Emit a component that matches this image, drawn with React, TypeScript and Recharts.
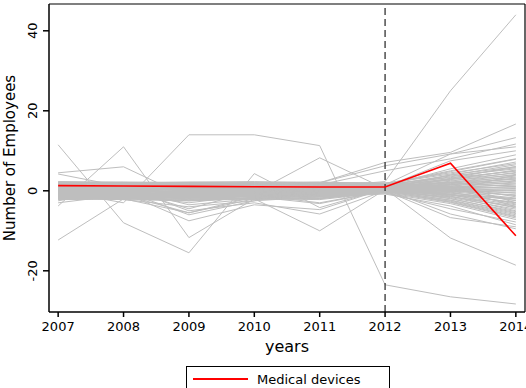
import React from 'react';
import { LineChart, Line, XAxis, YAxis, ReferenceLine, Legend, Label } from 'recharts';

const years = [2007, 2008, 2009, 2010, 2011, 2012, 2013, 2014];
const yTicks = [-20, 0, 20, 40];

// highlighted industry
const medicalDevices = [1.3, 1.2, 1.1, 1.0, 0.95, 0.95, 6.9, -11.25];

// the outlying grey industries
const outlierIndustries = [
  [11.5, -8.0, -15.5, 4.3, -4.2, 0.5, 1.5, 3.0],
  [-3.8, 11.0, -11.7, -2.0, -1.0, 0.8, 2.0, 1.0],
  [-12.3, -2.0, -5.5, -1.5, 1.0, 0.5, -1.0, -2.0],
  [4.5, 6.0, -1.7, -1.0, -3.0, 0.0, 3.0, 5.0],
  [0.0, -3.0, 14.0, 14.0, 11.3, -23.5, -26.5, -28.3],
  [4.2, 1.0, 0.5, -0.5, 8.25, 0.5, 4.0, 6.0],
  [1.0, 0.0, 0.5, 0.0, 1.0, 2.3, 25.0, 44.0],
  [0.5, 1.0, -5.0, -3.0, -5.8, 0.0, -6.7, -9.0],
  [-1.0, 0.5, -3.5, -2.0, -10.0, 0.3, -5.8, -9.5],
  [0.0, -0.5, -7.5, -3.5, -4.7, 0.5, -11.8, -18.6],
  [1.0, 0.0, -6.0, -2.5, 2.0, 7.1, 9.6, 16.7],
  [0.5, 1.0, 0.0, 1.0, 2.0, 6.25, 9.2, 13.3],
  [2.0, -1.0, -5.5, -2.0, 0.5, 1.0, 2.0, -3.0],
  [-2.5, 0.5, -4.5, 0.0, -2.0, 1.0, 0.0, 4.0],
  [-1.5, -2.0, -1.0, -1.5, -3.2, 0.0, 1.0, -4.0],
  [1.5, 1.0, 0.5, 1.0, 1.5, 5.0, 8.0, 11.7],
  [1.0, 1.2, 1.0, 0.8, 1.0, 1.5, 9.2, 11.0],
  [0.5, 0.5, 0.8, 1.0, 0.5, 1.0, 7.5, 10.0],
  [-3.0, -1.0, -3.0, -1.0, 0.5, 1.2, 5.5, 9.0],
  [-2.0, -1.5, -2.5, -1.8, -1.0, -0.5, -4.5, -7.8],
  [-1.5, -2.2, -4.0, -2.5, -1.5, -0.8, -3.8, -8.5],
];

// the dense band of grey industries
const bandIndustries = [
  [2.1, 1.8, 1.6, 1.5, 1.7, 1.5, 4.8, 7.9],
  [1.9, 2.0, 1.4, 1.2, 1.3, 1.8, 4.2, 7.2],
  [1.5, 1.3, 1.0, 1.4, 1.1, 1.2, 3.9, 6.5],
  [1.2, 1.6, 1.9, 1.8, 1.5, 1.0, 3.5, 5.8],
  [0.9, 0.7, 0.8, 0.6, 0.9, 0.9, 3.1, 6.1],
  [0.6, 1.1, 0.3, 0.8, 0.5, 0.7, 2.8, 5.2],
  [0.3, 0.2, 0.6, 0.2, 0.4, 0.6, 2.4, 4.6],
  [0.1, -0.2, -0.4, 0.1, 0.2, 0.5, 2.1, 4.1],
  [-0.2, 0.3, 0.1, -0.3, -0.1, 0.4, 1.8, 3.7],
  [-0.5, -0.6, -0.9, -0.6, -0.4, 0.3, 1.5, 3.2],
  [-0.8, -0.3, -1.2, -0.9, -0.7, 0.2, 1.2, 2.6],
  [-1.1, -1.0, -1.5, -1.3, -1.0, 0.1, 0.9, 2.2],
  [-1.4, -1.3, -0.8, -1.6, -1.2, 0.0, 0.6, 1.7],
  [-1.7, -1.6, -2.0, -1.8, -1.5, -0.1, 0.3, 1.1],
  [-2.0, -1.9, -1.7, -2.1, -1.8, -0.2, 0.0, 0.6],
  [-2.2, -2.1, -2.3, -1.9, -2.0, -0.3, -0.3, 0.1],
  [2.3, 2.2, 2.1, 2.0, 2.1, 1.9, 4.5, 6.8],
  [1.7, 1.4, 1.2, 1.0, 0.8, 1.3, 0.4, -0.6],
  [1.4, 1.0, 0.7, 0.9, 1.2, 1.1, 0.1, -1.2],
  [1.0, 0.5, 0.4, 0.5, 0.6, 0.9, -0.2, -1.8],
  [0.7, 0.9, 1.1, 0.3, 0.1, 0.8, -0.5, -2.4],
  [0.4, 0.0, -0.2, -0.1, 0.3, 0.6, -0.8, -3.0],
  [0.0, -0.4, -0.6, -0.4, -0.3, 0.5, -1.1, -3.5],
  [-0.3, -0.8, -1.0, -0.8, -0.6, 0.4, -1.4, -4.1],
  [-0.6, -1.2, -1.3, -1.1, -0.9, 0.3, -1.7, -4.6],
  [-0.9, -1.5, -1.8, -1.4, -1.3, 0.2, -2.0, -5.2],
  [-1.2, -1.8, -2.2, -1.7, -1.6, 0.0, -2.3, -5.7],
  [-1.5, -2.0, -1.4, -2.2, -1.9, -0.2, -2.6, -6.3],
  [-1.8, -2.2, -2.5, -2.0, -2.2, -0.4, -2.9, -6.8],
  [-2.1, -1.4, -1.1, -1.0, -0.8, -0.6, -3.2, -7.2],
  [2.0, 1.5, 1.3, 1.6, 1.9, 1.6, 3.3, 4.9],
  [1.6, 1.2, 0.9, 1.1, 1.4, 1.4, 2.6, 3.9],
  [1.3, 0.8, 0.5, 0.7, 1.0, 1.2, 2.0, 2.9],
  [0.8, 0.4, 0.2, 0.4, 0.7, 1.0, 1.4, 1.9],
  [0.5, 0.1, -0.1, 0.0, 0.3, 0.8, 0.8, 0.9],
  [0.2, -0.1, -0.5, -0.2, 0.0, 0.6, 0.4, -0.1],
  [-0.1, -0.5, -0.8, -0.5, -0.4, 0.4, -0.1, -1.0],
  [-0.4, -0.9, -1.1, -0.7, -0.7, 0.2, -0.6, -2.0],
  [-0.7, -1.1, -1.6, -1.2, -1.1, 0.0, -1.0, -2.9],
  [-1.0, -1.4, -1.9, -1.5, -1.4, -0.2, -1.5, -3.8],
  [1.8, 2.1, 1.7, 1.9, 1.6, 1.7, 5.0, 8.0],
  [1.1, 1.9, 2.0, 1.7, 1.8, 1.5, 3.7, 5.5],
  [0.6, 1.3, 1.5, 1.3, 1.4, 1.3, 2.9, 4.4],
  [0.2, 0.6, 0.9, 1.0, 1.0, 1.1, 2.2, 3.4],
  [-0.3, 0.0, 0.4, 0.4, 0.5, 0.9, 1.6, 2.4],
  [-0.9, -0.7, -0.3, -0.4, -0.2, 0.7, 1.0, 1.4],
  [-1.3, -1.7, -1.2, -1.3, -0.9, 0.5, 0.5, 0.4],
  [-1.9, -1.0, -0.7, -0.8, -1.1, 0.3, 0.1, -0.5],
  [1.5, 1.7, 1.8, 2.1, 2.2, 1.8, 1.1, -1.5],
  [2.2, 1.9, 2.2, 2.3, 2.0, 2.0, 0.7, -2.5],
  [0.9, 1.5, 1.6, 1.6, 1.2, 1.4, -0.3, -3.3],
  [0.4, 0.8, 1.2, 0.8, 0.8, 1.0, -0.9, -4.3],
  [-0.1, 0.2, 0.6, 0.6, 0.4, 0.7, -1.3, -5.0],
  [-0.6, -0.3, 0.0, 0.2, -0.1, 0.4, -1.9, -5.5],
  [-1.0, -0.8, -0.6, -0.3, -0.5, 0.1, -2.4, -6.0],
  [-1.6, -1.3, -1.0, -0.9, -1.2, -0.1, -2.8, -6.5],
];

const greyIndustries = [...bandIndustries, ...outlierIndustries];

const chartData = years.map((year, i) => {
  const row: Record<string, number> = { year, med: medicalDevices[i] };
  greyIndustries.forEach((s, j) => {
    row[`s${j}`] = s[i];
  });
  return row;
});

const FONT = '"DejaVu Sans", sans-serif';

const YTick = (props: any) => {
  const { x, y, payload } = props;
  const tx = x - 4;
  return (
    <text x={tx} y={y} transform={`rotate(-90, ${tx}, ${y})`} textAnchor="middle" fontSize={13} fill="#000" fontFamily={FONT}>
      {payload.value}
    </text>
  );
};

const LegendBox = (props: any) => {
  const item = (props.payload || []).find((p: any) => p.value === 'Medical devices');
  if (!item) return null;
  return (
    <div style={{ boxSizing: 'border-box', width: 204, height: 30, border: '1px solid #000', position: 'relative', background: '#fff' }}>
      <svg width={64} height={26} style={{ position: 'absolute', left: 0, top: 0 }}>
        <line x1={6} x2={61} y1={12} y2={12} stroke={item.color} strokeWidth={1.8} />
      </svg>
      <span style={{ position: 'absolute', left: 70, top: 5, fontSize: 13, lineHeight: 'normal', fontFamily: FONT, color: '#000', whiteSpace: 'nowrap' }}>
        {item.value}
      </span>
    </div>
  );
};

const App: React.FC = () => {
  return (
    <div style={{ position: 'absolute', left: 0, top: 0, width: 526, height: 388, background: '#fff', fontFamily: FONT, overflow: 'hidden' }}>
      <LineChart width={526} height={388} data={chartData} margin={{ top: 4, right: 1, left: 0, bottom: 0 }}>
        <XAxis
          dataKey="year"
          type="number"
          domain={[2006.86, 2014.14]}
          ticks={years}
          interval={0}
          height={76}
          stroke="#000"
          strokeWidth={1.5}
          tickSize={5}
          tickMargin={5}
          tick={{ fontSize: 13, fill: '#000', fontFamily: FONT }}
        >
          <Label
            content={(p: any) => (
              <text x={p.viewBox.x + p.viewBox.width / 2} y={p.viewBox.y + 40} textAnchor="middle" fontSize={16} fill="#000" fontFamily={FONT}>
                years
              </text>
            )}
          />
        </XAxis>
        <YAxis
          type="number"
          domain={[-30.3, 46.7]}
          ticks={yTicks}
          interval={0}
          width={49}
          stroke="#000"
          strokeWidth={1.5}
          tickSize={6}
          tick={<YTick />}
        >
          <Label
            content={(p: any) => {
              const cy = p.viewBox.y + p.viewBox.height / 2;
              return (
                <text x={14.5} y={cy} transform={`rotate(-90, 14.5, ${cy})`} textAnchor="middle" fontSize={15} fill="#000" fontFamily={FONT}>
                  Number of Employees
                </text>
              );
            }}
          />
        </YAxis>
        <ReferenceLine y={46.7} stroke="#000" strokeWidth={1.2} ifOverflow="visible" />
        <ReferenceLine x={2014.14} stroke="#000" strokeWidth={1.2} ifOverflow="visible" />
        {greyIndustries.map((_, j) => (
          <Line
            key={j}
            dataKey={`s${j}`}
            type="linear"
            stroke="#bebebe"
            strokeWidth={1}
            dot={false}
            activeDot={false}
            legendType="none"
            isAnimationActive={false}
          />
        ))}
        <ReferenceLine x={2012} stroke="#333" strokeWidth={1.3} strokeDasharray="7 4" />
        <Line
          dataKey="med"
          name="Medical devices"
          type="linear"
          stroke="#ff0000"
          strokeWidth={1.6}
          dot={false}
          activeDot={false}
          isAnimationActive={false}
        />
        <Legend
          layout="horizontal"
          verticalAlign="middle"
          align="center"
          content={<LegendBox />}
          wrapperStyle={{ left: 186, top: 366, width: 204, height: 30 }}
        />
      </LineChart>
    </div>
  );
};

export default App;
